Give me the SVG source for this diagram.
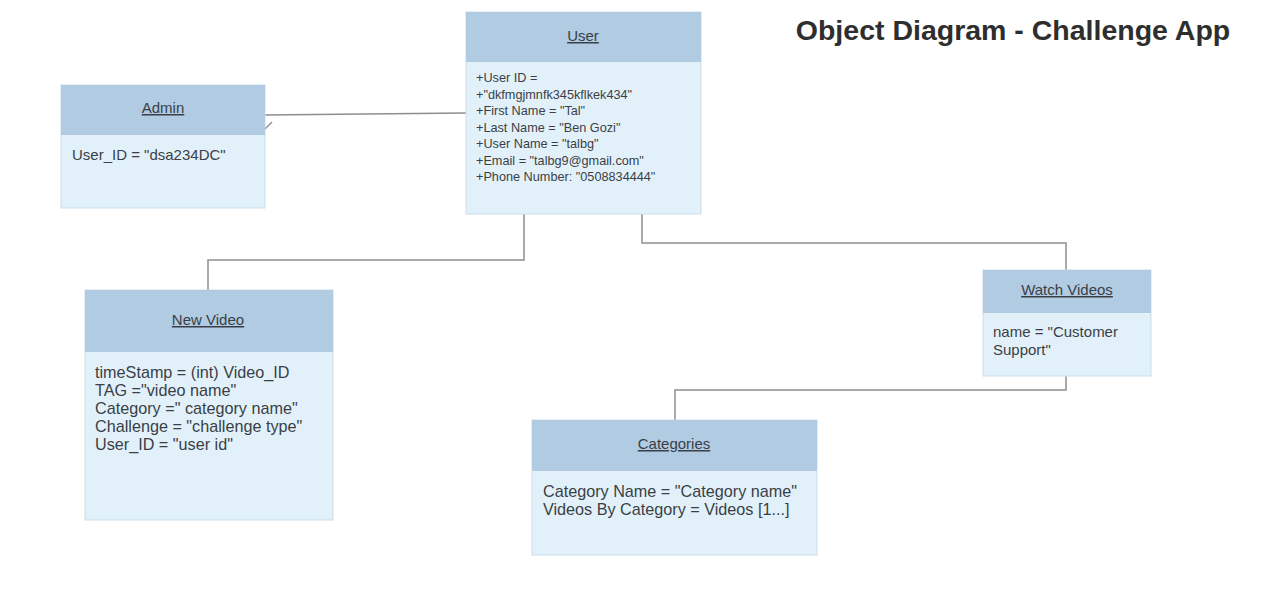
<svg xmlns="http://www.w3.org/2000/svg" width="1270" height="592" viewBox="0 0 1270 592">
<style>
.body{fill:#e2f1f9;stroke:#c9dde9;stroke-width:1}
.head{fill:#b0cbe2}
.title{font-family:"Liberation Sans",Arial,sans-serif;fill:#3a3f47;text-anchor:middle;text-decoration:underline}
.t{font-family:"Liberation Sans",Arial,sans-serif;fill:#3a3f47}
.conn{fill:none;stroke:#8e8e8e;stroke-width:1.5}
</style>
<rect width="1270" height="592" fill="#ffffff"/>
<text x="1013" y="40" font-family="Liberation Sans,Arial,sans-serif" font-weight="bold" font-size="28.5" fill="#2e2e2e" text-anchor="middle">Object Diagram - Challenge App</text>
<g id="connectors">
<path class="conn" d="M265 115 L466 113"/>
<path class="conn" d="M264 130 L272 122"/>
<path class="conn" d="M524 214 V260 H208 V290"/>
<path class="conn" d="M642 214 V243 H1066 V270"/>
<path class="conn" d="M1066 376 V390 H675 V420"/>
</g>
<g id="user">
<rect class="body" x="466" y="12" width="235" height="202"/>
<rect class="head" x="466" y="12" width="235" height="50"/>
<text class="title" x="583" y="41" font-size="15">User</text>
<g class="t" font-size="12.7">
<text x="476" y="82">+User ID =</text>
<text x="476" y="99">+"dkfmgjmnfk345kflkek434"</text>
<text x="476" y="115">+First Name = "Tal"</text>
<text x="476" y="132">+Last Name = "Ben Gozi"</text>
<text x="476" y="148">+User Name = "talbg"</text>
<text x="476" y="165">+Email = "talbg9@gmail.com"</text>
<text x="476" y="181">+Phone Number: "0508834444"</text>
</g>
</g>
<g id="admin">
<rect class="body" x="61" y="85" width="204" height="123"/>
<rect class="head" x="61" y="85" width="204" height="50"/>
<text class="title" x="163" y="113" font-size="15">Admin</text>
<text class="t" x="72" y="160" font-size="15">User_ID = "dsa234DC"</text>
</g>
<g id="new-video">
<rect class="body" x="85" y="290" width="248" height="230"/>
<rect class="head" x="85" y="290" width="248" height="62"/>
<text class="title" x="208" y="325" font-size="15">New Video</text>
<g class="t" font-size="16.2">
<text x="95" y="378">timeStamp = (int) Video_ID</text>
<text x="95" y="396">TAG ="video name"</text>
<text x="95" y="414">Category =" category name"</text>
<text x="95" y="432">Challenge = "challenge type"</text>
<text x="95" y="450">User_ID = "user id"</text>
</g>
</g>
<g id="watch-videos">
<rect class="body" x="983" y="270" width="168" height="106"/>
<rect class="head" x="983" y="270" width="168" height="43"/>
<text class="title" x="1067" y="295" font-size="15">Watch Videos</text>
<g class="t" font-size="15">
<text x="993" y="337">name = "Customer</text>
<text x="993" y="355">Support"</text>
</g>
</g>
<g id="categories">
<rect class="body" x="532" y="420" width="285" height="135"/>
<rect class="head" x="532" y="420" width="285" height="51"/>
<text class="title" x="674" y="449" font-size="15">Categories</text>
<g class="t" font-size="16.2">
<text x="543" y="497">Category Name = "Category name"</text>
<text x="543" y="515">Videos By Category = Videos [1...]</text>
</g>
</g>
</svg>
